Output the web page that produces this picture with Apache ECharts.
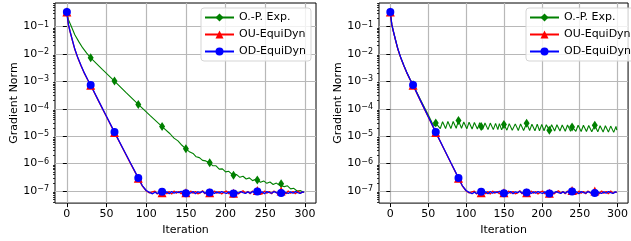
<!DOCTYPE html>
<html>
<head>
<meta charset="utf-8">
<script src="https://cdn.jsdelivr.net/npm/echarts@6/dist/echarts.min.js"></script>
<style>
  html, body { margin: 0; padding: 0; background: #fff; }
  #chart { width: 631px; height: 241px; }
</style>
</head>
<body>
<div id="chart"></div>
<script>
// values are log10(gradient norm)
const seriesNames = ['O.-P. Exp.', 'OU-EquiDyn', 'OD-EquiDyn'];
const xTicks = [0, 50, 100, 150, 200, 250, 300];
const yTicks = [-7, -6, -5, -4, -3, -2, -1];

// EquiDyn curves (same in both panels)
const eqIters = [0, 1, 2, 4, 7, 10, 14, 18, 22, 26, 30, 40, 50, 60, 70, 80, 90, 95, 100, 104, 108,
  111, 114, 117, 120, 123, 126, 129, 132, 135, 138,
  141, 144, 147, 150, 153, 156, 159, 162, 165, 168,
  171, 174, 177, 180, 183, 186, 189, 192, 195, 198,
  201, 204, 207, 210, 213, 216, 219, 222, 225, 228,
  231, 234, 237, 240, 243, 246, 249, 252, 255, 258,
  261, 264, 267, 270, 273, 276, 279, 282, 285, 288,
  291, 294, 297, 299];
const odLog = [-0.47, -0.72, -0.93, -1.17, -1.5, -1.82, -2.15, -2.43, -2.69, -2.92, -3.13, -3.71, -4.28, -4.85, -5.41, -5.97, -6.52, -6.8, -6.98, -7.05, -7.1,
  -7.04, -7.09, -7.02, -7.03, -7.08, -7.03, -7.1, -7.02, -7.08, -7.03,
  -7.06, -7.01, -7.08, -7.08, -7.03, -7.08, -7.02, -7.1, -7.03, -7.06,
  -7.01, -7.08, -7.03, -7.05, -7.02, -7.09, -7.03, -7.08, -7.02, -7.06,
  -7.09, -7.03, -7.08, -7.09, -7.03, -7.08, -7.02, -7.06, -7.09, -7.03,
  -7.08, -7.02, -7.06, -7.02, -7.08, -7.03, -7.1, -7.02, -7.06, -7.08,
  -7.02, -7.06, -7.09, -7.07, -7.02, -7.06, -7.09, -7.03, -7.08, -7.02,
  -7.06, -7.09, -7.03, -7.05];
const ouLog = [-0.47, -0.72, -0.94, -1.18, -1.51, -1.83, -2.16, -2.44, -2.7, -2.93, -3.14, -3.72, -4.29, -4.86, -5.42, -5.98, -6.53, -6.81, -6.99, -7.07, -7.03,
  -7.0, -7.11, -7.03, -7.06, -6.99, -7.1, -7.02, -7.11, -7.0, -7.08,
  -7.02, -7.1, -7.0, -7.06, -7.11, -7.0, -7.08, -7.02, -7.1, -7.07,
  -6.99, -7.1, -7.02, -7.06, -7.11, -7.0, -7.08, -7.02, -7.11, -7.04,
  -7.0, -7.1, -7.02, -7.08, -7.0, -7.11, -7.04, -6.99, -7.08, -7.02,
  -7.1, -7.0, -7.06, -6.98, -7.04, -7.11, -7.0, -7.08, -7.02, -7.1,
  -7.0, -7.06, -7.11, -7.0, -7.04, -7.1, -7.0, -7.08, -7.02, -7.1,
  -7.0, -7.08, -7.04, -7.05];

// O.-P. Exp., left panel
const opLeftIters = [0, 2, 5, 10, 15, 20, 25, 30, 45, 60, 75, 90, 105, 120, 130, 135, 140, 145, 150,
  155, 159, 163, 167, 171, 175, 180, 184, 188, 192, 196, 200, 204, 208, 210,
  214, 218, 222, 226, 230, 234, 238, 240, 244, 248, 252, 256, 260, 264, 268, 270,
  274, 278, 282, 286, 290, 294, 299];
const opLeftLog = [-0.47, -0.75, -0.95, -1.3, -1.55, -1.78, -1.97, -2.14, -2.57, -2.99, -3.42, -3.84, -4.25, -4.65, -4.91, -5.07, -5.17, -5.33, -5.46,
  -5.58, -5.63, -5.75, -5.78, -5.88, -5.9, -5.97, -6.08, -6.08, -6.2, -6.19, -6.3, -6.28, -6.38, -6.42,
  -6.4, -6.5, -6.46, -6.56, -6.52, -6.62, -6.57, -6.6, -6.68, -6.63, -6.72, -6.67, -6.76, -6.71, -6.79, -6.73,
  -6.84, -6.81, -6.92, -6.9, -7.0, -6.98, -7.05];

// O.-P. Exp., right panel
const opRightIters = [0, 2, 4, 7, 10, 14, 18, 22, 26, 30, 40, 50, 55, 58, 60,
  62, 66, 69, 73, 76, 80, 83, 87, 90, 94, 97, 101, 104, 108, 111, 115, 118, 120,
  122, 125, 129, 132, 136, 139, 142, 144, 147, 150, 154, 157, 161, 165, 169, 172, 176, 180,
  184, 187, 191, 194, 197, 200, 203, 206, 210, 213, 217, 220, 224, 227, 231, 234, 238, 240,
  241, 245, 248, 252, 255, 259, 262, 266, 270, 274, 277, 281, 284, 288, 291, 295, 298, 299];
const opRightLog = [-0.47, -0.93, -1.17, -1.5, -1.82, -2.15, -2.43, -2.69, -2.92, -3.12, -3.68, -4.22, -4.5, -4.63, -4.52,
  -4.47, -4.72, -4.47, -4.72, -4.46, -4.72, -4.46, -4.71, -4.43, -4.71, -4.48, -4.73, -4.49, -4.74, -4.5, -4.74, -4.51, -4.65,
  -4.75, -4.52, -4.76, -4.52, -4.76, -4.53, -4.76, -4.54, -4.77, -4.57, -4.78, -4.54, -4.78, -4.55, -4.79, -4.55, -4.79, -4.53,
  -4.79, -4.56, -4.8, -4.56, -4.8, -4.57, -4.8, -4.58, -4.78, -4.58, -4.81, -4.58, -4.81, -4.59, -4.82, -4.59, -4.82, -4.66,
  -4.6, -4.82, -4.6, -4.83, -4.6, -4.83, -4.61, -4.84, -4.6, -4.84, -4.62, -4.85, -4.62, -4.85, -4.63, -4.86, -4.64, -4.78];

const yMin = -7.44, yMax = -0.14;
const font = 'DejaVu Sans';

// minor log ticks (2..9 x 10^n)
const minorTicks = [];
for (let n = -8; n <= 0; n++) {
  for (let k = 2; k <= 9; k++) {
    const v = n + Math.log10(k);
    if (v > yMin && v < yMax) minorTicks.push(v);
  }
}

// markers every 30 iterations, like markevery
function toData(xs, ys) {
  return xs.map((x, i) => x % 30 === 0 ? [x, ys[i]] : { value: [x, ys[i]], symbol: 'none' });
}

function makeX(i) {
  return {
    type: 'value', gridIndex: i, min: -14.95, max: 313.95,
    axisLine: { show: false },
    axisTick: { show: true, length: 4, customValues: xTicks, lineStyle: { color: '#000', width: 1 } },
    axisLabel: { customValues: xTicks, margin: 6, fontSize: 11, color: '#000', fontFamily: font },
    splitLine: { show: true, lineStyle: { color: '#b8b8b8', width: 1.2 } },
    name: 'Iteration', nameLocation: 'middle', nameGap: 19,
    nameTextStyle: { fontSize: 11, color: '#000', fontFamily: font }
  };
}

function makeY(i) {
  return {
    type: 'value', gridIndex: i, min: yMin, max: yMax, position: 'left',
    axisLine: { show: false },
    axisTick: { show: true, length: 4, customValues: yTicks, lineStyle: { color: '#000', width: 1 } },
    axisLabel: {
      customValues: yTicks, margin: 6, color: '#000', fontFamily: font,
      formatter: v => '{b|10}{s|\u2212' + Math.abs(Math.round(v)) + '}',
      rich: {
        b: { fontSize: 11, fontFamily: font, color: '#000' },
        s: { fontSize: 8, fontFamily: font, color: '#000', padding: [0, 0, 4, 0] }
      }
    },
    splitLine: { show: true, lineStyle: { color: '#b8b8b8', width: 1.2 } },
    name: 'Gradient Norm', nameLocation: 'middle', nameGap: 33,
    nameTextStyle: { fontSize: 11, color: '#000', fontFamily: font }
  };
}

function makeMinorY(i) {
  return {
    type: 'value', gridIndex: i, min: yMin, max: yMax, position: 'left', offset: 0,
    axisLine: { show: false },
    axisLabel: { show: false },
    splitLine: { show: false },
    axisTick: { show: true, length: 2, customValues: minorTicks, lineStyle: { color: '#000', width: 0.8 } }
  };
}

function makeLegend(left) {
  return {
    data: seriesNames, orient: 'vertical', left: left, top: 8,
    itemWidth: 29, itemHeight: 10, itemGap: 6, padding: [4, 5, 4, 3],
    backgroundColor: 'rgba(255,255,255,0.8)', borderColor: '#d5d5d5', borderWidth: 1, borderRadius: 3,
    textStyle: { fontSize: 11, color: '#000', fontFamily: font }
  };
}

function makeSeries(gi, opIters, opLog) {
  const yi = gi * 2;
  return [
    {
      name: seriesNames[0], type: 'line', xAxisIndex: gi, yAxisIndex: yi,
      data: toData(opIters, opLog), symbol: 'diamond', symbolSize: [6, 9],
      lineStyle: { color: 'green', width: 1.1 }, itemStyle: { color: 'green' }
    },
    {
      name: seriesNames[1], type: 'line', xAxisIndex: gi, yAxisIndex: yi,
      data: toData(eqIters, ouLog), symbol: 'triangle', symbolSize: 9,
      lineStyle: { color: 'red', width: 1.3 }, itemStyle: { color: 'red' }
    },
    {
      name: seriesNames[2], type: 'line', xAxisIndex: gi, yAxisIndex: yi,
      data: toData(eqIters, odLog), symbol: 'circle', symbolSize: 8,
      lineStyle: { color: 'blue', width: 1.3 }, itemStyle: { color: 'blue' }
    }
  ];
}

const chart = echarts.init(document.getElementById('chart'));
chart.setOption({
  animation: false,
  backgroundColor: '#fff',
  textStyle: { fontFamily: font },
  grid: [
    { left: 55, top: 3, width: 261, height: 202, show: true, borderColor: '#000', borderWidth: 1 },
    { left: 379, top: 3, width: 261, height: 202, show: true, borderColor: '#000', borderWidth: 1 }
  ],
  legend: [makeLegend(201), makeLegend(526)],
  xAxis: [makeX(0), makeX(1)],
  yAxis: [makeY(0), makeMinorY(0), makeY(1), makeMinorY(1)],
  series: makeSeries(0, opLeftIters, opLeftLog).concat(makeSeries(1, opRightIters, opRightLog))
});
</script>
</body>
</html>
